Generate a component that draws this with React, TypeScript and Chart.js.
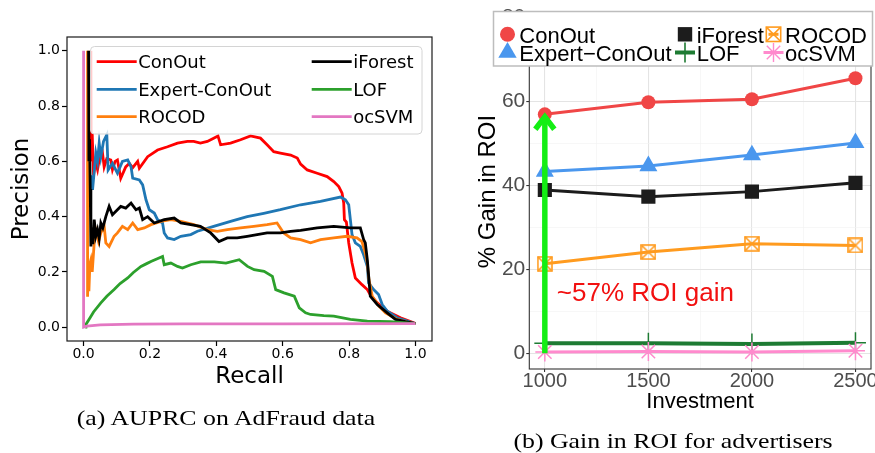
import React, { useEffect, useRef } from "react";
import { Chart, registerables } from "chart.js";

Chart.register(...registerables);

// ---------------- Panel (a): precision-recall curves ----------------
const prTickValues = [0, 0.2, 0.4, 0.6, 0.8, 1.0];

const conOutCurve: [number, number][] = [
  [0.022, 1.0], [0.023, 0.6], [0.026, 0.7], [0.03, 0.55], [0.036, 0.6], [0.042, 0.57], [0.047, 0.605],
  [0.057, 0.63], [0.062, 0.58], [0.07, 0.61], [0.082, 0.605], [0.087, 0.57], [0.095, 0.6], [0.102, 0.605],
  [0.112, 0.539], [0.127, 0.58], [0.138, 0.593], [0.148, 0.577], [0.163, 0.6], [0.168, 0.575], [0.193, 0.617],
  [0.223, 0.641], [0.253, 0.653], [0.283, 0.666], [0.313, 0.672], [0.332, 0.672], [0.352, 0.666], [0.373, 0.672],
  [0.392, 0.684], [0.405, 0.692], [0.413, 0.66], [0.443, 0.666], [0.473, 0.678], [0.503, 0.692], [0.533, 0.684],
  [0.553, 0.66], [0.573, 0.635], [0.593, 0.63], [0.624, 0.623], [0.644, 0.612], [0.654, 0.59], [0.674, 0.569],
  [0.704, 0.557], [0.734, 0.545], [0.754, 0.527], [0.769, 0.509], [0.779, 0.485], [0.784, 0.449], [0.786, 0.389],
  [0.792, 0.38], [0.799, 0.305], [0.809, 0.232], [0.819, 0.178], [0.839, 0.154], [0.855, 0.136], [0.864, 0.118],
  [0.885, 0.088], [0.915, 0.058], [0.935, 0.046], [0.955, 0.034], [0.995, 0.016], [1.0, 0.013],
];

const expertConOutCurve: [number, number][] = [
  [0.025, 0.55], [0.027, 0.497], [0.037, 0.63], [0.042, 0.6], [0.047, 0.666], [0.052, 0.617], [0.06, 0.672],
  [0.07, 0.696], [0.074, 0.569], [0.087, 0.593], [0.102, 0.557], [0.117, 0.6], [0.133, 0.605], [0.143, 0.58],
  [0.148, 0.539], [0.168, 0.533], [0.178, 0.515], [0.188, 0.461], [0.198, 0.425], [0.213, 0.413], [0.223, 0.389],
  [0.238, 0.377], [0.243, 0.341], [0.253, 0.323], [0.273, 0.317], [0.293, 0.329], [0.323, 0.335], [0.343, 0.347],
  [0.392, 0.365], [0.443, 0.383], [0.493, 0.4], [0.543, 0.412], [0.593, 0.425], [0.654, 0.443], [0.714, 0.455],
  [0.774, 0.471], [0.789, 0.461], [0.799, 0.443], [0.804, 0.389], [0.809, 0.335], [0.819, 0.305], [0.834, 0.292],
  [0.844, 0.262], [0.855, 0.22], [0.859, 0.16], [0.874, 0.136], [0.889, 0.118], [0.9, 0.082], [0.915, 0.058],
  [0.945, 0.034], [0.98, 0.02], [1.0, 0.013],
];

const rocodCurve: [number, number][] = [
  [0.012, 1.0], [0.012, 0.11], [0.014, 0.22], [0.016, 0.13], [0.019, 0.23], [0.022, 0.244], [0.026, 0.2],
  [0.032, 0.305], [0.036, 0.355], [0.045, 0.31], [0.052, 0.341], [0.062, 0.365], [0.067, 0.305], [0.077, 0.292],
  [0.092, 0.329], [0.102, 0.341], [0.117, 0.365], [0.133, 0.353], [0.148, 0.377], [0.163, 0.353], [0.183, 0.359],
  [0.203, 0.371], [0.233, 0.383], [0.263, 0.389], [0.293, 0.383], [0.332, 0.371], [0.373, 0.353], [0.403, 0.347],
  [0.433, 0.353], [0.473, 0.359], [0.513, 0.365], [0.553, 0.371], [0.583, 0.377], [0.603, 0.341], [0.624, 0.323],
  [0.654, 0.317], [0.684, 0.305], [0.714, 0.317], [0.754, 0.323], [0.794, 0.329], [0.824, 0.323], [0.839, 0.31],
  [0.849, 0.268], [0.855, 0.232], [0.86, 0.172], [0.87, 0.112], [0.89, 0.076], [0.91, 0.052], [0.945, 0.028],
  [0.975, 0.018], [1.0, 0.013],
];

const iForestCurve: [number, number][] = [
  [0.015, 1.0], [0.016, 0.6], [0.018, 0.68], [0.02, 0.5], [0.022, 0.292], [0.025, 0.36], [0.028, 0.3],
  [0.032, 0.389], [0.037, 0.33], [0.042, 0.353], [0.047, 0.32], [0.052, 0.377], [0.058, 0.36], [0.067, 0.4],
  [0.077, 0.437], [0.087, 0.407], [0.102, 0.425], [0.112, 0.437], [0.127, 0.431], [0.143, 0.449], [0.158, 0.425],
  [0.168, 0.431], [0.178, 0.389], [0.193, 0.4], [0.213, 0.377], [0.243, 0.389], [0.273, 0.395], [0.293, 0.377],
  [0.323, 0.371], [0.352, 0.365], [0.383, 0.341], [0.408, 0.31], [0.433, 0.323], [0.463, 0.323], [0.493, 0.329],
  [0.523, 0.335], [0.553, 0.341], [0.593, 0.341], [0.624, 0.347], [0.654, 0.35], [0.704, 0.359], [0.754, 0.365],
  [0.804, 0.359], [0.834, 0.359], [0.844, 0.317], [0.849, 0.305], [0.855, 0.244], [0.86, 0.172], [0.864, 0.112],
  [0.885, 0.082], [0.915, 0.052], [0.94, 0.028], [0.97, 0.02], [1.0, 0.013],
];

const lofCurve: [number, number][] = [
  [0.005, 0.0], [0.007, 0.01], [0.02, 0.035], [0.03, 0.055], [0.052, 0.088], [0.07, 0.112], [0.092, 0.136],
  [0.11, 0.158], [0.133, 0.178], [0.15, 0.198], [0.173, 0.22], [0.19, 0.23], [0.203, 0.238], [0.238, 0.256],
  [0.243, 0.226], [0.263, 0.232], [0.283, 0.22], [0.298, 0.214], [0.323, 0.226], [0.353, 0.236], [0.394, 0.236],
  [0.429, 0.232], [0.469, 0.244], [0.494, 0.22], [0.514, 0.208], [0.544, 0.202], [0.569, 0.184], [0.579, 0.136],
  [0.604, 0.124], [0.635, 0.112], [0.65, 0.07], [0.669, 0.052], [0.684, 0.046], [0.724, 0.042], [0.754, 0.04],
  [0.804, 0.028], [0.855, 0.022], [0.925, 0.02], [1.0, 0.013],
];

const ocSvmCurve: [number, number][] = [
  [0, 1.0], [0, 0.0], [0.01, 0.004], [0.05, 0.008], [0.15, 0.011], [0.3, 0.012], [0.6, 0.012], [1.0, 0.013],
];

const prLabels = ["ConOut", "Expert-ConOut", "ROCOD", "iForest", "LOF", "ocSVM"];
const prCurves = [conOutCurve, expertConOutCurve, rocodCurve, iForestCurve, lofCurve, ocSvmCurve];
const prColors = ["#ff0000", "#1f77b4", "#ff7f0e", "#000000", "#2ca02c", "#e377c2"];

// ---------------- Panel (b): gain in ROI ----------------
const investment = [1000, 1500, 2000, 2500];
const roiConOut = [56.9, 59.8, 60.5, 65.5];
const roiExpertConOut = [43.3, 44.6, 47.2, 50.1];
const roiIForest = [38.9, 37.3, 38.5, 40.6];
const roiLof = [2.4, 2.4, 2.2, 2.5];
const roiRocod = [21.3, 24.1, 26.1, 25.7];
const roiOcSvm = [0.3, 0.4, 0.3, 0.6];
const roiYTicks = [0, 10, 20, 30, 40, 50, 60, 70, 80];
const roiXTicks = [1000, 1250, 1500, 1750, 2000, 2250, 2500];
const roiLabels = ["ConOut", "Expert\u2212ConOut", "iForest", "LOF", "ROCOD", "ocSVM"];
const roiValues = [roiConOut, roiExpertConOut, roiIForest, roiLof, roiRocod, roiOcSvm];
const roiColors = ["#f04646", "#4a97ee", "#1c1c1c", "#1e7b33", "#ff9b1f", "#ff8acd"];
const roiShapes = ["circle", "triangle", "rect", "cross", "boxcross", "star"];
const arrowTopValue = 57.4;
const annotationText = "~57% ROI gain";
const annotationX = 1058;
const annotationY = 12.45;

function makeBoxCross(color: string, size: number) {
  const c = document.createElement("canvas");
  c.width = size;
  c.height = size;
  const g = c.getContext("2d")!;
  g.strokeStyle = color;
  g.lineWidth = 1.6;
  g.strokeRect(1, 1, size - 2, size - 2);
  g.beginPath();
  g.moveTo(1, 1);
  g.lineTo(size - 1, size - 1);
  g.moveTo(size - 1, 1);
  g.lineTo(1, size - 1);
  g.stroke();
  return c;
}

function drawSymbol(ctx: CanvasRenderingContext2D, kind: string, x: number, y: number, color: string) {
  ctx.save();
  ctx.fillStyle = color;
  ctx.strokeStyle = color;
  if (kind === "circle") {
    ctx.beginPath();
    ctx.arc(x, y, 7.5, 0, Math.PI * 2);
    ctx.fill();
  } else if (kind === "triangle") {
    const r = 10.6;
    ctx.beginPath();
    for (let k = 0; k < 3; k++) {
      const a = (k * 2 * Math.PI) / 3;
      const px = x + Math.sin(a) * r;
      const py = y - Math.cos(a) * r;
      if (k === 0) ctx.moveTo(px, py);
      else ctx.lineTo(px, py);
    }
    ctx.closePath();
    ctx.fill();
  } else if (kind === "rect") {
    ctx.fillRect(x - 7.2, y - 7.2, 14.4, 14.4);
  } else if (kind === "boxcross") {
    ctx.lineWidth = 1.6;
    ctx.strokeRect(x - 7.2, y - 7.2, 14.4, 14.4);
    ctx.beginPath();
    ctx.moveTo(x - 7.2, y - 7.2);
    ctx.lineTo(x + 7.2, y + 7.2);
    ctx.moveTo(x + 7.2, y - 7.2);
    ctx.lineTo(x - 7.2, y + 7.2);
    ctx.stroke();
  } else if (kind === "cross") {
    ctx.lineWidth = 1.6;
    ctx.beginPath();
    ctx.moveTo(x - 10, y);
    ctx.lineTo(x + 10, y);
    ctx.moveTo(x, y - 10);
    ctx.lineTo(x, y + 10);
    ctx.stroke();
  } else if (kind === "star") {
    ctx.lineWidth = 1.4;
    ctx.beginPath();
    const r = 9.5;
    for (let k = 0; k < 4; k++) {
      const a = (k * Math.PI) / 4;
      ctx.moveTo(x - Math.cos(a) * r, y - Math.sin(a) * r);
      ctx.lineTo(x + Math.cos(a) * r, y + Math.sin(a) * r);
    }
    ctx.stroke();
  }
  ctx.restore();
}

const prDecor = {
  id: "prDecor",
  afterDatasetsDraw(chart: any) {
    const { ctx, chartArea: a } = chart;
    ctx.save();
    ctx.strokeStyle = "#1a1a1a";
    ctx.lineWidth = 1.2;
    ctx.strokeRect(a.left, a.top, a.right - a.left, a.bottom - a.top);

    // legend box (matplotlib style)
    const bx = 90.5, by = 46.5, bw = 331.5, bh = 87.5, rr = 4;
    ctx.beginPath();
    ctx.moveTo(bx + rr, by);
    ctx.lineTo(bx + bw - rr, by);
    ctx.quadraticCurveTo(bx + bw, by, bx + bw, by + rr);
    ctx.lineTo(bx + bw, by + bh - rr);
    ctx.quadraticCurveTo(bx + bw, by + bh, bx + bw - rr, by + bh);
    ctx.lineTo(bx + rr, by + bh);
    ctx.quadraticCurveTo(bx, by + bh, bx, by + bh - rr);
    ctx.lineTo(bx, by + rr);
    ctx.quadraticCurveTo(bx, by, bx + rr, by);
    ctx.closePath();
    ctx.fillStyle = "rgba(255,255,255,0.8)";
    ctx.fill();
    ctx.strokeStyle = "#d4d4d4";
    ctx.lineWidth = 1;
    ctx.stroke();

    const rows = [61.7, 89.3, 116.7];
    const cols = [96.7, 311.7];
    ctx.font = '18px "DejaVu Sans"';
    ctx.textBaseline = "alphabetic";
    ctx.textAlign = "left";
    chart.data.datasets.forEach((ds: any, i: number) => {
      const hx = cols[Math.floor(i / 3)];
      const y = rows[i % 3];
      ctx.strokeStyle = ds.borderColor;
      ctx.lineWidth = 2.8;
      ctx.beginPath();
      ctx.moveTo(hx, y);
      ctx.lineTo(hx + 40, y);
      ctx.stroke();
      ctx.fillStyle = "#000";
      ctx.fillText(ds.label, hx + 41.5, y + 6.6);
    });

    // axis titles
    ctx.fillStyle = "#000";
    ctx.font = '23px "DejaVu Sans"';
    ctx.textAlign = "center";
    ctx.fillText("Recall", (a.left + a.right) / 2, 383);
    ctx.translate(28.4, (a.top + a.bottom) / 2);
    ctx.rotate(-Math.PI / 2);
    ctx.fillText("Precision", 0, 0);
    ctx.restore();
  },
};

const roiDecor = {
  id: "roiDecor",
  afterDatasetsDraw(chart: any) {
    const { ctx, chartArea: a, scales } = chart;
    const xs = scales.x;
    const ys = scales.y;
    ctx.save();
    // panel border
    ctx.strokeStyle = "#333333";
    ctx.lineWidth = 1.1;
    ctx.strokeRect(a.left, a.top, a.right - a.left, a.bottom - a.top);

    // green arrow
    const ax = xs.getPixelForValue(investment[0]);
    const y0 = ys.getPixelForValue(0);
    const y1 = ys.getPixelForValue(arrowTopValue);
    ctx.strokeStyle = "#14ee14";
    ctx.lineWidth = 5.5;
    ctx.lineCap = "butt";
    ctx.beginPath();
    ctx.moveTo(ax, y0);
    ctx.lineTo(ax, y1 + 4);
    ctx.stroke();
    ctx.lineJoin = "miter";
    ctx.beginPath();
    ctx.moveTo(ax - 9.5, y1 + 17);
    ctx.lineTo(ax, y1 + 4.5);
    ctx.lineTo(ax + 9.5, y1 + 17);
    ctx.stroke();

    // annotation text
    ctx.fillStyle = "#f21010";
    ctx.font = '26px "Liberation Sans"';
    ctx.textAlign = "left";
    ctx.textBaseline = "alphabetic";
    ctx.fillText(annotationText, xs.getPixelForValue(annotationX), ys.getPixelForValue(annotationY));

    // legend
    ctx.fillStyle = "#ffffff";
    ctx.fillRect(53.5, 11.5, 379, 54.5);
    ctx.strokeStyle = "#bdbdbd";
    ctx.lineWidth = 1.5;
    ctx.strokeRect(53.5, 11.5, 379, 54.5);
    const symX = [67.5, 245, 333.5];
    const txtX = [79.3, 256.7, 345];
    const symY = [34.3, 52.5];
    const txtY = [42.5, 60.8];
    ctx.font = '22px "Liberation Sans"';
    roiLabels.forEach((label, i) => {
      const c = Math.floor(i / 2);
      const r = i % 2;
      const half = i === 3 || i === 5 ? 10 : 5;
      ctx.strokeStyle = roiColors[i];
      ctx.lineWidth = i === 3 ? 4 : 3;
      ctx.beginPath();
      ctx.moveTo(symX[c] - half, symY[r]);
      ctx.lineTo(symX[c] + half, symY[r]);
      ctx.stroke();
      drawSymbol(ctx, roiShapes[i], symX[c], symY[r], roiColors[i]);
      ctx.fillStyle = "#000";
      ctx.fillText(label, txtX[c], txtY[r]);
    });

    // axis titles
    ctx.fillStyle = "#000";
    ctx.font = '22px "Liberation Sans"';
    ctx.textAlign = "center";
    ctx.fillText("Investment", (a.left + a.right) / 2, 408);
    ctx.font = '24px "Liberation Sans"';
    ctx.translate(55, (a.top + a.bottom) / 2);
    ctx.rotate(-Math.PI / 2);
    ctx.fillText("% Gain in ROI", 0, 0);
    ctx.restore();
  },
};

export default function App() {
  const leftRef = useRef<HTMLCanvasElement>(null);
  const rightRef = useRef<HTMLCanvasElement>(null);

  useEffect(() => {
    const left = new Chart(leftRef.current!, {
      type: "line",
      data: {
        datasets: prCurves.map((curve, i) => ({
          label: prLabels[i],
          data: curve.map(([r, p]) => ({ x: r, y: p })),
          borderColor: prColors[i],
          backgroundColor: prColors[i],
          borderWidth: 2.8,
          pointRadius: 0,
          fill: false,
          tension: 0,
          order: -i,
        })),
      },
      options: {
        animation: false,
        responsive: false,
        devicePixelRatio: 1,
        layout: { padding: { left: 0, right: 8, top: 37, bottom: 0 }, autoPadding: false },
        plugins: { legend: { display: false }, tooltip: { enabled: false } },
        scales: {
          x: {
            type: "linear",
            min: -0.05,
            max: 1.05,
            afterBuildTicks: (s: any) => {
              s.ticks = prTickValues.map((v) => ({ value: v }));
            },
            afterFit: (s: any) => {
              s.height = 112;
              s.paddingLeft = 0;
              s.paddingRight = 0;
            },
            grid: { drawOnChartArea: false, tickLength: 5, tickColor: "#000", tickWidth: 1.2 },
            border: { display: false },
            ticks: {
              font: { family: "DejaVu Sans", size: 14 },
              color: "#000",
              padding: 0,
              maxRotation: 0,
              autoSkip: false,
              callback: (v: any) => Number(v).toFixed(1),
            },
          },
          y: {
            type: "linear",
            min: -0.05,
            max: 1.05,
            afterBuildTicks: (s: any) => {
              s.ticks = prTickValues.map((v) => ({ value: v }));
            },
            afterFit: (s: any) => {
              s.width = 67;
              s.paddingTop = 0;
              s.paddingBottom = 0;
            },
            grid: { drawOnChartArea: false, tickLength: 5, tickColor: "#000", tickWidth: 1.2 },
            border: { display: false },
            ticks: {
              font: { family: "DejaVu Sans", size: 14 },
              color: "#000",
              padding: 2,
              autoSkip: false,
              callback: (v: any) => Number(v).toFixed(1),
            },
          },
        },
      },
      plugins: [prDecor],
    } as any);

    const boxCross = makeBoxCross(roiColors[4], 16);
    const pointStyles: any[] = roiShapes.map((s) => (s === "boxcross" ? boxCross : s));
    const pointRadii = [7, 10.4, 10, 10.5, 8, 9.5];

    const right = new Chart(rightRef.current!, {
      type: "line",
      data: {
        datasets: roiValues.map((vals, i) => ({
          label: roiLabels[i],
          data: vals.map((v, k) => ({ x: investment[k], y: v })),
          borderColor: roiColors[i],
          backgroundColor: roiColors[i],
          borderWidth: i === 3 ? 4 : 3,
          pointStyle: pointStyles[i],
          pointRadius: pointRadii[i],
          pointBackgroundColor: roiColors[i],
          pointBorderColor: roiColors[i],
          pointBorderWidth: i === 3 || i === 5 ? 1.5 : 0,
          fill: false,
          tension: 0,
          order: -i,
        })),
      },
      options: {
        animation: false,
        responsive: false,
        devicePixelRatio: 1,
        layout: { padding: { left: 0, right: 4, top: 14, bottom: 0 }, autoPadding: false },
        plugins: { legend: { display: false }, tooltip: { enabled: false } },
        scales: {
          x: {
            type: "linear",
            min: 925,
            max: 2575,
            afterBuildTicks: (s: any) => {
              s.ticks = roiXTicks.map((v) => ({ value: v }));
            },
            afterFit: (s: any) => {
              s.height = 84;
              s.paddingLeft = 0;
              s.paddingRight = 0;
            },
            grid: {
              drawOnChartArea: true,
              tickLength: 3,
              color: (c: any) => (c.tick && c.tick.value % 500 === 0 ? "#e4e4e4" : "#f2f2f2"),
              lineWidth: (c: any) => (c.tick && c.tick.value % 500 === 0 ? 1.1 : 0.6),
              tickColor: (c: any) => (c.tick && c.tick.value % 500 === 0 ? "#333" : "rgba(0,0,0,0)"),
            },
            border: { display: false },
            ticks: {
              font: { family: "Liberation Sans", size: 20, lineHeight: 1 },
              color: "#4d4d4d",
              padding: -1,
              maxRotation: 0,
              autoSkip: false,
              callback: (v: any) => (Number(v) % 500 === 0 ? String(v) : ""),
            },
          },
          y: {
            type: "linear",
            min: -3.74,
            max: 80.8,
            afterBuildTicks: (s: any) => {
              s.ticks = roiYTicks.map((v) => ({ value: v }));
            },
            afterFit: (s: any) => {
              s.width = 89.3;
              s.paddingTop = 0;
              s.paddingBottom = 0;
            },
            grid: {
              drawOnChartArea: true,
              tickLength: 3,
              color: (c: any) => (c.tick && c.tick.value % 20 === 0 ? "#e4e4e4" : "#f2f2f2"),
              lineWidth: (c: any) => (c.tick && c.tick.value % 20 === 0 ? 1.1 : 0.6),
              tickColor: (c: any) => (c.tick && c.tick.value % 20 === 0 ? "#333" : "rgba(0,0,0,0)"),
            },
            border: { display: false },
            ticks: {
              font: { family: "Liberation Sans", size: 21 },
              color: "#4d4d4d",
              padding: 1,
              autoSkip: false,
              callback: (v: any) => (Number(v) % 20 === 0 ? String(v) : ""),
            },
          },
        },
      },
      plugins: [roiDecor],
    } as any);

    return () => {
      left.destroy();
      right.destroy();
    };
  }, []);

  const captionStyle: React.CSSProperties = {
    position: "absolute",
    width: 500,
    lineHeight: "24px",
    textAlign: "center",
    fontFamily: '"Liberation Serif", serif',
    fontSize: 21,
    color: "#000",
    transform: "scaleX(1.23)",
    whiteSpace: "nowrap",
  };

  return (
    <div style={{ position: "fixed", left: 0, top: 0, width: 875, height: 453, background: "#fff", overflow: "hidden" }}>
      <canvas ref={leftRef} width={440} height={453} style={{ position: "absolute", left: 0, top: 0, width: 440, height: 453 }} />
      <canvas ref={rightRef} width={435} height={453} style={{ position: "absolute", left: 440, top: 0, width: 435, height: 453 }} />
      <div style={{ ...captionStyle, left: 225.5 - 250, top: 406 }}>(a) AUPRC on AdFraud data</div>
      <div style={{ ...captionStyle, left: 673 - 250, top: 429 }}>(b) Gain in ROI for advertisers</div>
    </div>
  );
}
